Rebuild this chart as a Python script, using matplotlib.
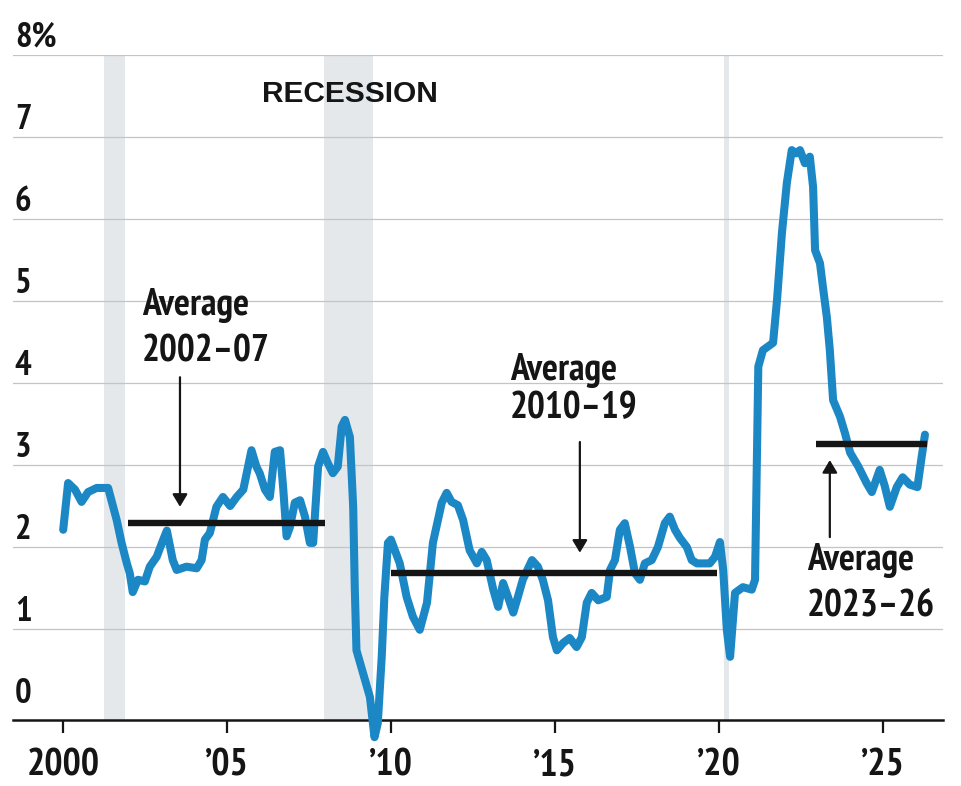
import matplotlib
matplotlib.use("Agg")
import matplotlib.pyplot as plt
from matplotlib.transforms import blended_transform_factory

plt.rcParams['font.family'] = ['PT Sans Narrow', 'Roboto Condensed', 'DejaVu Sans']

# Annual inflation rate, percent (decimal year, value)
dates = [
    2000.01, 2000.16, 2000.37, 2000.57, 2000.77, 2001.03, 2001.38, 2001.48, 2001.64, 2001.79,
    2001.95, 2002.04, 2002.13, 2002.29, 2002.50, 2002.65, 2002.86, 2003.05, 2003.17, 2003.35,
    2003.47, 2003.77, 2004.08, 2004.23, 2004.33, 2004.48, 2004.68, 2004.88, 2005.10, 2005.30,
    2005.50, 2005.75, 2005.90, 2006.00, 2006.16, 2006.31, 2006.46, 2006.62, 2006.72, 2006.82,
    2006.92, 2007.07, 2007.23, 2007.38, 2007.53, 2007.63, 2007.78, 2007.93, 2008.08, 2008.23,
    2008.38, 2008.50, 2008.60, 2008.75, 2008.85, 2008.90, 2008.95, 2009.15, 2009.36, 2009.45,
    2009.50, 2009.60, 2009.72, 2009.80, 2009.91, 2010.00, 2010.12, 2010.27, 2010.48, 2010.67,
    2010.88, 2011.10, 2011.28, 2011.55, 2011.70, 2011.85, 2012.04, 2012.20, 2012.40, 2012.62,
    2012.77, 2012.92, 2013.12, 2013.27, 2013.42, 2013.57, 2013.73, 2013.87, 2014.02, 2014.30,
    2014.48, 2014.63, 2014.79, 2014.94, 2015.06, 2015.25, 2015.45, 2015.66, 2015.82, 2015.97,
    2016.12, 2016.32, 2016.58, 2016.68, 2016.83, 2016.98, 2017.13, 2017.29, 2017.44, 2017.59,
    2017.74, 2017.95, 2018.14, 2018.35, 2018.50, 2018.66, 2018.81, 2019.02, 2019.17, 2019.33,
    2019.51, 2019.72, 2019.88, 2020.03, 2020.13, 2020.24, 2020.34, 2020.49, 2020.73, 2021.00,
    2021.10, 2021.20, 2021.34, 2021.65, 2021.77, 2021.92, 2022.07, 2022.22, 2022.35, 2022.47,
    2022.62, 2022.77, 2022.87, 2022.93, 2023.08, 2023.17, 2023.29, 2023.38, 2023.48, 2023.69,
    2023.84, 2024.00, 2024.25, 2024.50, 2024.66, 2024.90, 2025.05, 2025.21, 2025.42, 2025.60,
    2025.82, 2026.05, 2026.18, 2026.28,
]
values = [
    2.21, 2.78, 2.70, 2.55, 2.67, 2.72, 2.72, 2.57, 2.33, 2.05,
    1.80, 1.68, 1.45, 1.60, 1.58, 1.76, 1.88, 2.08, 2.20, 1.84,
    1.72, 1.76, 1.74, 1.84, 2.09, 2.17, 2.49, 2.61, 2.50, 2.61,
    2.70, 3.18, 2.98, 2.90, 2.70, 2.61, 3.16, 3.18, 2.70, 2.13,
    2.24, 2.54, 2.57, 2.37, 2.05, 2.05, 2.98, 3.16, 3.02, 2.90,
    2.98, 3.47, 3.55, 3.34, 2.49, 1.48, 0.74, 0.46, 0.17, -0.15,
    -0.32, -0.15, 0.66, 1.39, 2.05, 2.09, 1.96, 1.80, 1.39, 1.15,
    0.99, 1.32, 2.05, 2.54, 2.66, 2.55, 2.51, 2.33, 1.96, 1.80,
    1.94, 1.84, 1.48, 1.27, 1.56, 1.39, 1.20, 1.39, 1.60, 1.84,
    1.76, 1.60, 1.35, 0.90, 0.74, 0.83, 0.89, 0.78, 0.90, 1.32,
    1.44, 1.35, 1.39, 1.72, 1.84, 2.21, 2.29, 2.00, 1.68, 1.60,
    1.80, 1.84, 2.00, 2.29, 2.37, 2.21, 2.11, 2.00, 1.84, 1.80,
    1.80, 1.80, 1.88, 2.06, 1.72, 0.99, 0.66, 1.44, 1.51, 1.48,
    1.60, 4.20, 4.40, 4.49, 5.01, 5.83, 6.44, 6.84, 6.80, 6.84,
    6.68, 6.76, 6.39, 5.62, 5.46, 5.17, 4.80, 4.40, 3.79, 3.59,
    3.39, 3.15, 2.98, 2.78, 2.67, 2.94, 2.75, 2.49, 2.73, 2.85,
    2.76, 2.73, 3.10, 3.37,
]

# Recession periods (decimal years)
recession_starts = [2001.25, 2007.95, 2020.15]
recession_ends = [2001.90, 2009.45, 2020.30]

# Period averages
avg_starts = [2002.0, 2010.0, 2022.95]
avg_ends = [2008.0, 2019.95, 2026.33]
avg_values = [2.29, 1.68, 3.26]
avg_periods = ["2002–07", "2010–19", "2023–26"]

y_ticks = [0, 1, 2, 3, 4, 5, 6, 7, 8]
y_tick_labels = ["0", "1", "2", "3", "4", "5", "6", "7", "8%"]
x_ticks = [2000, 2005, 2010, 2015, 2020, 2025]
x_tick_labels = ["2000", "’05", "’10", "’15", "’20", "’25"]

BLUE = "#1c87c5"
INK = "#151515"

fig = plt.figure(figsize=(9.61, 7.86), dpi=100)
ax = fig.add_axes([13 / 961, 66 / 786, 930 / 961, 665 / 786])
ax.set_xlim(1998.48, 2026.83)
ax.set_ylim(-0.11, 8.0)

# recession shading
for s, e in zip(recession_starts, recession_ends):
    ax.axvspan(s, e, color="#e4e8eb", lw=0, zorder=0)

# horizontal gridlines
for v in y_ticks[1:]:
    ax.axhline(v, color="#c4c4c4", lw=0.9, zorder=1)

# y labels sit above the gridlines, inside the plot
lab_tr = blended_transform_factory(ax.transAxes, ax.transData)
for v, lab in zip(y_ticks, y_tick_labels):
    ax.text(0.002, v + 0.1, lab, transform=lab_tr, ha="left", va="baseline",
            fontsize=25, fontweight="bold", color=INK, zorder=5)

# series
ax.plot(dates, values, color=BLUE, lw=5.8, solid_joinstyle="round",
        solid_capstyle="round", zorder=3, clip_on=False)

# period averages
for s, e, v in zip(avg_starts, avg_ends, avg_values):
    ax.plot([s, e], [v, v], color=INK, lw=4.6, solid_capstyle="butt", zorder=4)

arrow_kw = dict(arrowstyle="-|>,head_length=0.5,head_width=0.3", lw=1.6,
                color=INK, mutation_scale=15, shrinkA=0, shrinkB=0)
note_kw = dict(fontsize=27, fontweight="bold", ha="left", va="baseline", color=INK)

# 2002-07
ax.annotate("", xy=(2003.57, avg_values[0] + 0.2), xytext=(2003.57, 4.07),
            arrowprops=arrow_kw, zorder=5)
ax.text(2002.41, 4.83, "Average", **note_kw)
ax.text(2002.41, 4.26, avg_periods[0], **note_kw)

# 2010-19
ax.annotate("", xy=(2015.76, avg_values[1] + 0.25), xytext=(2015.76, 3.28),
            arrowprops=arrow_kw, zorder=5)
ax.text(2013.63, 4.04, "Average", **note_kw)
ax.text(2013.63, 3.57, avg_periods[1], **note_kw)

# 2023-26
ax.annotate("", xy=(2023.38, avg_values[2] - 0.2), xytext=(2023.38, 2.12),
            arrowprops=arrow_kw, zorder=5)
ax.text(2022.68, 1.72, "Average", **note_kw)
ax.text(2022.68, 1.15, avg_periods[2], **note_kw)

ax.text(2006.07, 7.43, "RECESSION", fontsize=21.5, fontweight="bold", ha="left",
        va="baseline", color=INK, family=["Liberation Sans", "DejaVu Sans"])

# axes styling
for side in ("top", "right", "left"):
    ax.spines[side].set_visible(False)
ax.spines["bottom"].set_color(INK)
ax.spines["bottom"].set_linewidth(1.8)
ax.set_yticks([])
ax.set_xticks(x_ticks)
ax.set_xticklabels(x_tick_labels, fontsize=27.5, fontweight="bold", color=INK)
ax.tick_params(axis="x", length=9.5, width=1.6, color=INK, pad=11)

fig.savefig("out.png", dpi=100, facecolor="white")
